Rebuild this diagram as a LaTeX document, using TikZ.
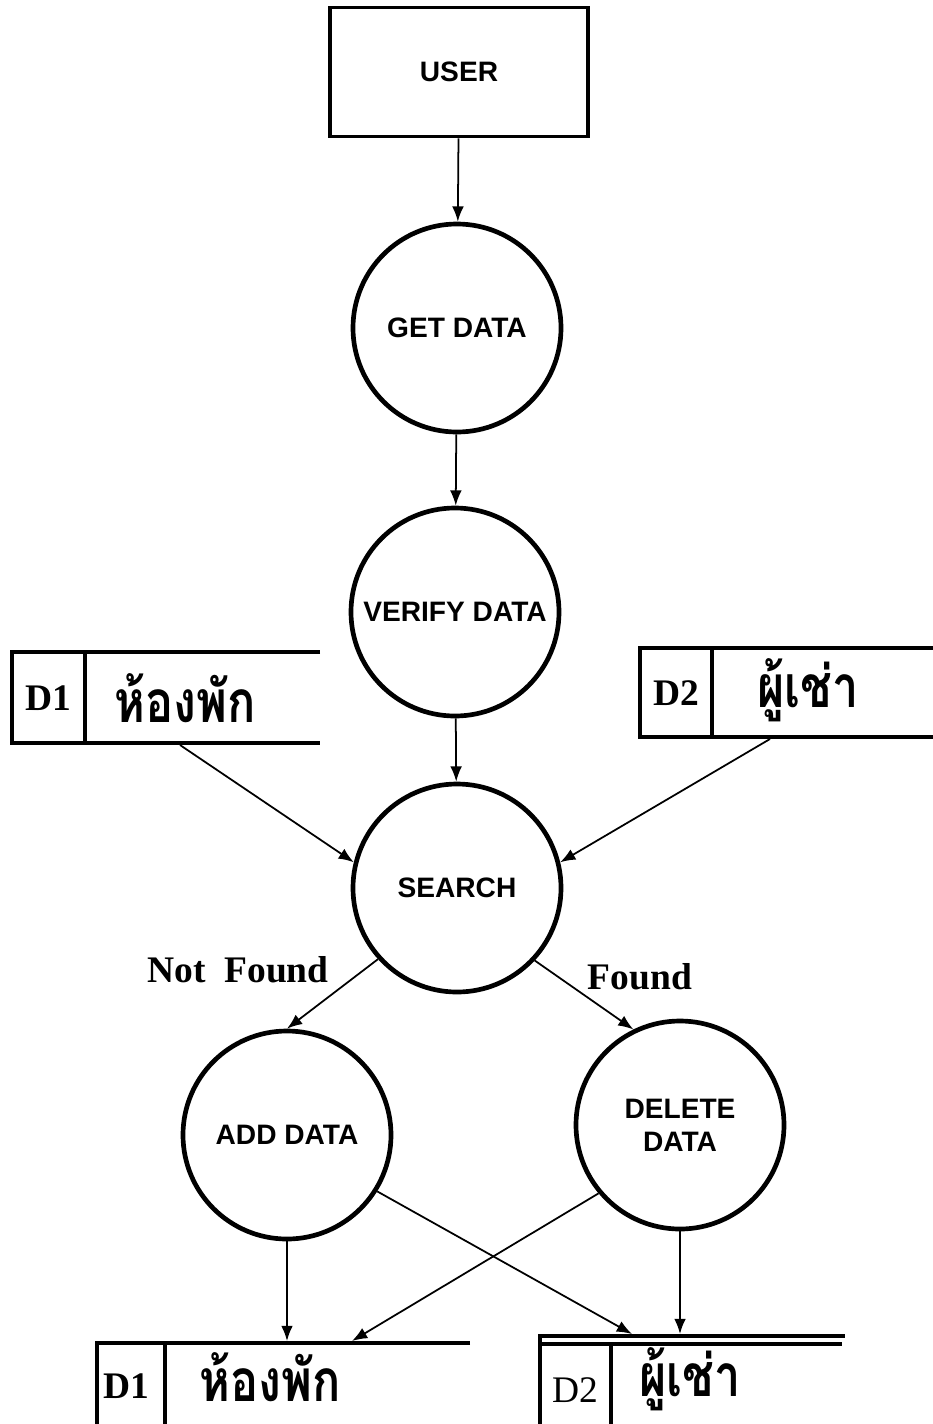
\documentclass[tikz,border=0pt]{standalone}
\usepackage{fontspec}
\setmainfont{Liberation Serif}
\setsansfont{Liberation Sans}
\newfontfamily\thaifont[Script=Thai]{Loma}
\usetikzlibrary{arrows.meta}
\newcommand{\tallname}[1]{\scalebox{1}[1.25]{#1}}

\tikzset{
    process/.style={circle, draw, line width=4pt, minimum size=6.24cm, inner sep=0pt,
        align=center, font=\sffamily\bfseries\fontsize{24}{28}\selectfont},
    flow/.style={-{Latex[length=13pt, width=10pt]}, line width=1.5pt},
    storeline/.style={line width=3.5pt},
    storeid/.style={font=\bfseries\fontsize{32}{36}\selectfont},
    storename/.style={inner sep=0pt, font=\thaifont\bfseries\fontsize{40}{44}\selectfont},
    cond/.style={font=\bfseries\fontsize{32}{36}\selectfont}
}

\begin{document}
\begin{tikzpicture}[x=0.03cm, y=-0.03cm]
    \useasboundingbox (0, 0) rectangle (933, 1424);
    % entity and processes
    \node [draw, line width=3pt, minimum width=7.74cm, minimum height=3.87cm,
        font=\sffamily\bfseries\fontsize{24}{28}\selectfont] (user) at (459, 72) {USER};
    \node [process] (get)    at (457, 328)  {GET DATA};
    \node [process] (verify) at (455, 612)  {VERIFY DATA};
    \node [process] (search) at (457, 888)  {SEARCH};
    \node [process] (add)    at (287, 1135) {ADD DATA};
    \node [process] (del)    at (680, 1125) {DELETE\\DATA};

    % data stores, top
    \draw [storeline] (320, 652) -- (12, 652) -- (12, 743) -- (320, 743);
    \draw [storeline] (85, 652) -- (85, 743);
    \node [storeid]   (d1id) at (48, 698)  {D1};
    \node [storename] (d1)   at (185, 698) {\tallname{ห้องพัก}};
    \draw [storeline] (933, 648) -- (640, 648) -- (640, 737) -- (933, 737);
    \draw [storeline] (712, 648) -- (712, 737);
    \node [storeid]   (d2id) at (676, 693) {D2};
    \node [storename] (d2)   at (808, 690) {\tallname{ผู้เช่า}};

    % data stores, bottom
    \draw [storeline] (470, 1343) -- (97, 1343) -- (97, 1430);
    \draw [storeline] (165, 1343) -- (165, 1430);
    \node [storeid]   (d1bid) at (126, 1386) {D1};
    \node [storename] (d1b)   at (270, 1377) {\tallname{ห้องพัก}};
    \draw [storeline] (540, 1430) -- (540, 1336) -- (845, 1336);
    \draw [storeline] (540, 1344) -- (842, 1344);
    \draw [storeline] (611, 1344) -- (611, 1430);
    \node [font=\fontsize{32}{36}\selectfont] (d2bid) at (575, 1390) {D2};
    \node [storename] (d2b)   at (690, 1379) {\tallname{ผู้เช่า}};

    \coordinate (d1out) at (180, 745);
    \coordinate (d2out) at (770, 739);
    \coordinate (d1ina) at (287, 1341);
    \coordinate (d1inb) at (352, 1341);
    \coordinate (d2ina) at (632, 1334);
    \coordinate (d2inb) at (680, 1334);

    % flows
    \foreach \from/\to in {user/get, get/verify, verify/search} {
        \draw [flow] (\from) -- (\to);
        }
    \draw [flow] (d1out) -- (search.166);
    \draw [flow] (d2out) -- (search.14);
    \draw [flow] (search.222) -- (add.north);
    \draw [flow] (search.317) -- (del.116);
    \draw [flow] (add.south) -- (d1ina);
    \draw [flow] (add.328) -- (d2ina);
    \draw [flow] (del.220) -- (d1inb);
    \draw [flow] (del.south) -- (d2inb);

    \node [cond] (notfound) at (238, 970) {Not\ \ Found};
    \node [cond] (found)    at (640, 977) {Found};
\end{tikzpicture}
\end{document}
